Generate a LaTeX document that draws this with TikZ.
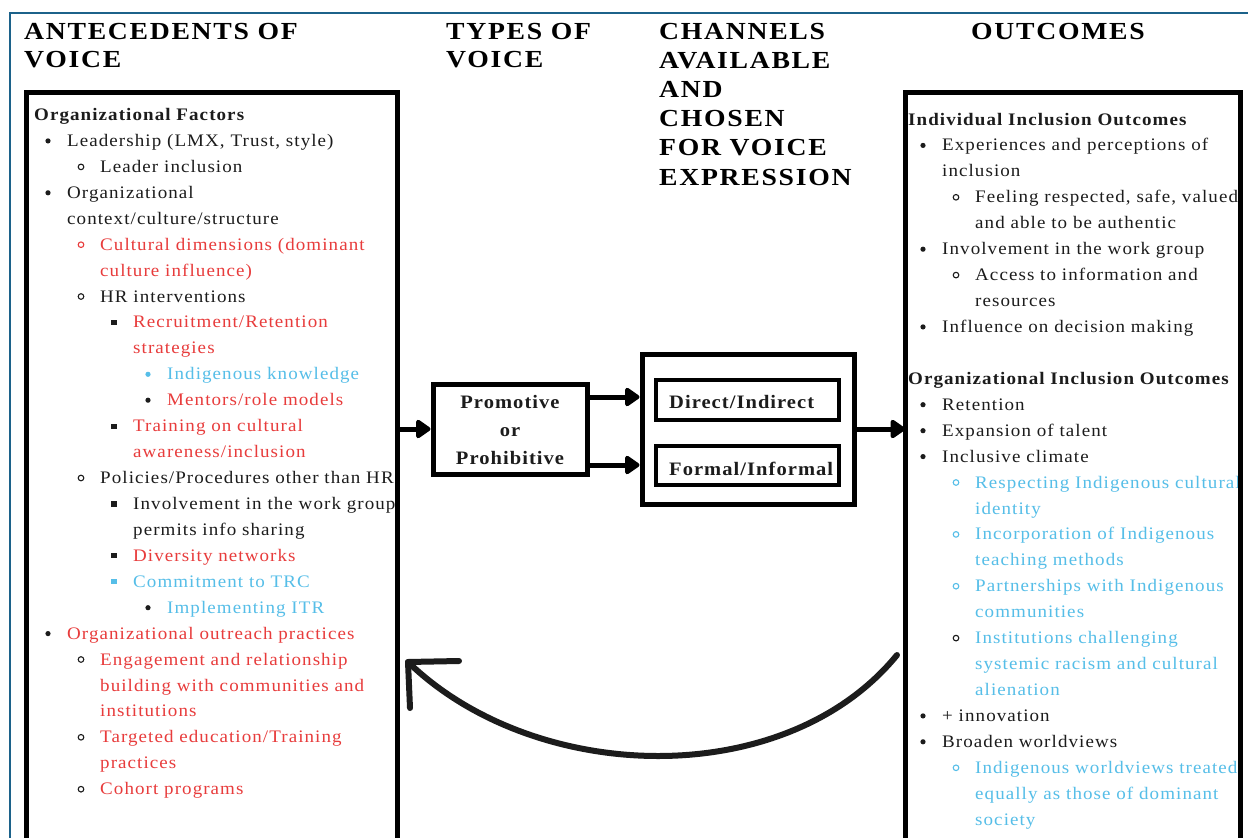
\documentclass[tikz,border=0pt]{standalone}
\usepackage{fontspec}
\setmainfont{Liberation Serif}
\newfontfamily\bodyface[LetterSpace=6.1,FakeStretch=1.08]{Liberation Serif}
\newfontfamily\midface[LetterSpace=5.5,FakeStretch=1.08]{Liberation Serif}
\newfontfamily\headface[LetterSpace=7,FakeStretch=1.13]{Liberation Serif}
\usetikzlibrary{arrows.meta}

\definecolor{frameblue}{RGB}{28,98,138}
\definecolor{ink}{RGB}{28,28,28}
\definecolor{redtxt}{RGB}{232,60,60}
\definecolor{bluetxt}{RGB}{86,190,232}

\tikzset{
  txt/.style={anchor=base west, inner sep=0pt, font=\bodyface\fontsize{17.6}{26}\selectfont},
  hd/.style={anchor=base west, inner sep=0pt, text=black, font=\headface\bfseries\fontsize{24.5}{29}\selectfont},
  midtxt/.style={inner sep=0pt, text=ink, font=\midface\bfseries\fontsize{19}{24}\selectfont},
  bigbox/.style={draw=black, line width=5pt, rectangle, inner sep=0pt, outer sep=0pt},
  box/.style={draw=black, line width=5pt, rectangle, inner sep=0pt, fill=white},
  innerbox/.style={draw=black, line width=4pt, rectangle, inner sep=0pt, fill=white},
  arr/.style={draw=black, line width=5pt, -{Triangle[length=16pt,width=21pt,round]}},
  loop/.style={draw=ink, line width=6pt, line cap=round, line join=round},
}

% text line: name, x, baseline y, colour, text
\newcommand\trow[5]{\node[txt,text=#4] (#1) at (#2,#3) {#5};}
% bullets placed to the left of a text line
\newcommand\bdisc[2]{\fill[#2] ([shift={(-19,-5.5)}]#1.base west) circle (2.6);}
\newcommand\bring[2]{\draw[#2,line width=1.1pt] ([shift={(-19,-5.5)}]#1.base west) circle (2.8);}
\newcommand\bsq[2]{\fill[#2] ([shift={(-21.6,-8.1)}]#1.base west) rectangle +(5.2,5.2);}

\begin{document}
\begin{tikzpicture}[x=1pt,y=-1pt]
\useasboundingbox (0,0) rectangle (1248,838);
\fill[white] (0,0) rectangle (1248,838);

% outer frame
\draw[frameblue, line width=2pt] (10,845) -- (10,13) -- (1255,13);

% column headings
\node[hd] (hA1) at (24,39) {ANTECEDENTS OF};
\node[hd] (hA2) at (24,67.5) {VOICE};
\node[hd] (hT1) at (446,39) {TYPES OF};
\node[hd] (hT2) at (446,67.5) {VOICE};
\node[hd] (hC1) at (659,39) {CHANNELS};
\node[hd] (hC2) at (659,68.2) {AVAILABLE};
\node[hd] (hC3) at (659,97.4) {AND};
\node[hd] (hC4) at (659,126.6) {CHOSEN};
\node[hd] (hC5) at (659,155.8) {FOR VOICE};
\node[hd] (hC6) at (659,185) {EXPRESSION};
\node[hd] (hO) at (971,39) {OUTCOMES};

% large side boxes
\node[bigbox, minimum width=371pt, minimum height=790pt] (lbox) at (211.5,487) {};
\node[bigbox, minimum width=335pt, minimum height=790pt] (rbox) at (1072.5,487) {};

% antecedents list
\begin{scope}
\clip (28.5,94.5) rectangle (394.5,838);
\trow{lh}{34}{120.5}{ink}{\bfseries Organizational Factors}
\trow{l1}{67}{146.4}{ink}{Leadership (LMX, Trust, style)}\bdisc{l1}{ink}
\trow{l2}{100}{172.4}{ink}{Leader inclusion}\bring{l2}{ink}
\trow{l3}{67}{198.3}{ink}{Organizational}\bdisc{l3}{ink}
\trow{l4}{67}{224.2}{ink}{context/culture/structure}
\trow{l5}{100}{250.2}{redtxt}{Cultural dimensions (dominant}\bring{l5}{redtxt}
\trow{l6}{100}{276.1}{redtxt}{culture influence)}
\trow{l7}{100}{302.0}{ink}{HR interventions}\bring{l7}{ink}
\trow{l8}{133}{327.9}{redtxt}{Recruitment/Retention}\bsq{l8}{ink}
\trow{l9}{133}{353.9}{redtxt}{strategies}
\trow{l10}{167}{379.8}{bluetxt}{Indigenous knowledge}\bdisc{l10}{bluetxt}
\trow{l11}{167}{405.7}{redtxt}{Mentors/role models}\bdisc{l11}{ink}
\trow{l12}{133}{431.7}{redtxt}{Training on cultural}\bsq{l12}{ink}
\trow{l13}{133}{457.6}{redtxt}{awareness/inclusion}
\trow{l14}{100}{483.5}{ink}{Policies/Procedures other than HR}\bring{l14}{ink}
\trow{l15}{133}{509.5}{ink}{Involvement in the work group}\bsq{l15}{ink}
\trow{l16}{133}{535.4}{ink}{permits info sharing}
\trow{l17}{133}{561.3}{redtxt}{Diversity networks}\bsq{l17}{ink}
\trow{l18}{133}{587.2}{bluetxt}{Commitment to TRC}\bsq{l18}{bluetxt}
\trow{l19}{167}{613.2}{bluetxt}{Implementing ITR}\bdisc{l19}{ink}
\trow{l20}{67}{639.1}{redtxt}{Organizational outreach practices}\bdisc{l20}{ink}
\trow{l21}{100}{665.0}{redtxt}{Engagement and relationship}\bring{l21}{ink}
\trow{l22}{100}{691.0}{redtxt}{building with communities and}
\trow{l23}{100}{716.9}{redtxt}{institutions}
\trow{l24}{100}{742.8}{redtxt}{Targeted education/Training}\bring{l24}{ink}
\trow{l25}{100}{768.8}{redtxt}{practices}
\trow{l26}{100}{794.7}{redtxt}{Cohort programs}\bring{l26}{ink}
\end{scope}

% outcomes list
\begin{scope}
\clip (905,94.5) rectangle (1237.5,838);
\trow{rh1}{908}{125.0}{ink}{\bfseries Individual Inclusion Outcomes}
\trow{r1}{942}{150.9}{ink}{Experiences and perceptions of}\bdisc{r1}{ink}
\trow{r2}{942}{176.9}{ink}{inclusion}
\trow{r3}{975}{202.8}{ink}{Feeling respected, safe, valued}\bring{r3}{ink}
\trow{r4}{975}{228.7}{ink}{and able to be authentic}
\trow{r5}{942}{254.7}{ink}{Involvement in the work group}\bdisc{r5}{ink}
\trow{r6}{975}{280.6}{ink}{Access to information and}\bring{r6}{ink}
\trow{r7}{975}{306.5}{ink}{resources}
\trow{r8}{942}{332.4}{ink}{Influence on decision making}\bdisc{r8}{ink}
\trow{rh2}{908}{384.3}{ink}{\bfseries Organizational Inclusion Outcomes}
\trow{r9}{942}{410.2}{ink}{Retention}\bdisc{r9}{ink}
\trow{r10}{942}{436.2}{ink}{Expansion of talent}\bdisc{r10}{ink}
\trow{r11}{942}{462.1}{ink}{Inclusive climate}\bdisc{r11}{ink}
\trow{r12}{975}{488.0}{bluetxt}{Respecting Indigenous cultural}\bring{r12}{bluetxt}
\trow{r13}{975}{514.0}{bluetxt}{identity}
\trow{r14}{975}{539.9}{bluetxt}{Incorporation of Indigenous}\bring{r14}{bluetxt}
\trow{r15}{975}{565.8}{bluetxt}{teaching methods}
\trow{r16}{975}{591.7}{bluetxt}{Partnerships with Indigenous}\bring{r16}{bluetxt}
\trow{r17}{975}{617.7}{bluetxt}{communities}
\trow{r18}{975}{643.6}{bluetxt}{Institutions challenging}\bring{r18}{ink}
\trow{r19}{975}{669.5}{bluetxt}{systemic racism and cultural}
\trow{r20}{975}{695.5}{bluetxt}{alienation}
\trow{r21}{942}{721.4}{ink}{+ innovation}\bdisc{r21}{ink}
\trow{r22}{942}{747.3}{ink}{Broaden worldviews}\bdisc{r22}{ink}
\trow{r23}{975}{773.3}{bluetxt}{Indigenous worldviews treated}\bring{r23}{bluetxt}
\trow{r24}{975}{799.2}{bluetxt}{equally as those of dominant}
\trow{r25}{975}{825.1}{bluetxt}{society}
\end{scope}

% types of voice
\node[box, minimum width=154pt, minimum height=90pt] (prom) at (510,429) {};
\node[midtxt, anchor=base] (p1) at (510,408) {Promotive};
\node[midtxt, anchor=base] (p2) at (510,436) {or};
\node[midtxt, anchor=base] (p3) at (510,464) {Prohibitive};

% channels
\node[box, minimum width=212pt, minimum height=150pt] (chan) at (748,429) {};
\node[innerbox, minimum width=183pt, minimum height=40pt] (dir) at (747.5,400) {};
\node[innerbox, minimum width=183pt, minimum height=39pt] (form) at (747.5,465.5) {};
\node[midtxt, anchor=base west] (dirt) at (669,408) {Direct/Indirect};
\node[midtxt, anchor=base west] (formt) at (669,475) {Formal/Informal};

% straight connectors
\coordinate (yUp) at (0,397);
\coordinate (yLow) at (0,465);
\draw[arr] (prom.west -| lbox.east) -- (prom.west);
\draw[arr] (prom.east |- yUp) -- (chan.west |- yUp);
\draw[arr] (prom.east |- yLow) -- (chan.west |- yLow);
\draw[arr] (chan.east) -- (chan.east -| rbox.west);

% feedback loop from outcomes back to antecedents
\coordinate (cstart) at (897,655);
\coordinate (ctip) at (408,662);
\coordinate (barbA) at (459,661);
\coordinate (barbB) at (410,708);
\draw[loop] (cstart) .. controls (785,792) and (535,785) .. (ctip);
\draw[loop] (barbA) -- (ctip) -- (barbB);
\end{tikzpicture}
\end{document}
